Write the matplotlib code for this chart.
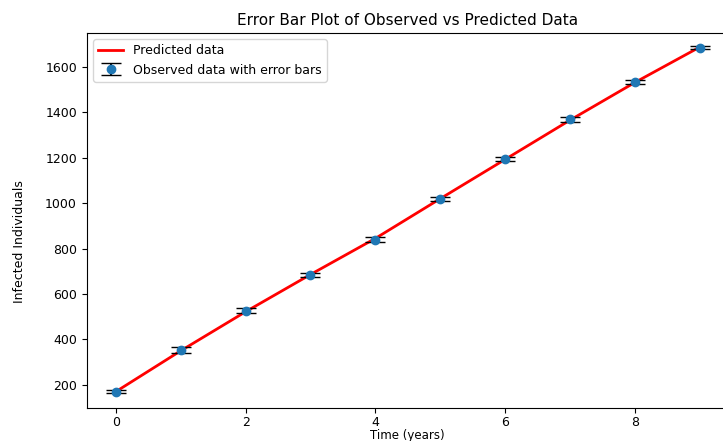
import matplotlib.pyplot as plt
import numpy as np

years = np.arange(10)
observed = [170, 354, 526, 684, 840, 1019, 1195, 1370, 1533, 1686]
errors = [8, 12, 11, 10, 12, 8, 7, 12, 8, 7]
predicted = [170, 350, 522, 686, 845, 1020, 1193, 1366, 1532, 1688]

fig = plt.figure(figsize=(7.23, 4.41), dpi=100)
ax = fig.add_axes([0.120, 0.075, 0.888, 0.850])

ax.plot(years, predicted, color='red', linewidth=2, label='Predicted data')
ax.errorbar(years, observed, yerr=errors, fmt='o', color='C0', ecolor='black',
            capsize=7, markersize=6, label='Observed data with error bars')

ax.set_xlim(-0.45, 9.45)
ax.set_ylim(98, 1750)
ax.set_xticks([0, 2, 4, 6, 8])
ax.set_yticks(range(200, 1601, 200))
ax.set_title('Error Bar Plot of Observed vs Predicted Data', fontsize=11)
ax.set_xlabel('Time (years)', fontsize=8.5)
ax.xaxis.set_label_coords(0.5, -0.056)
ax.set_ylabel('Infected Individuals', fontsize=9)
ax.yaxis.set_label_coords(-0.095, 0.445)
ax.tick_params(labelsize=9)
ax.tick_params(axis='x', pad=2)
ax.legend(loc='upper left', fontsize=9)

fig.savefig('out.png', dpi=100)
